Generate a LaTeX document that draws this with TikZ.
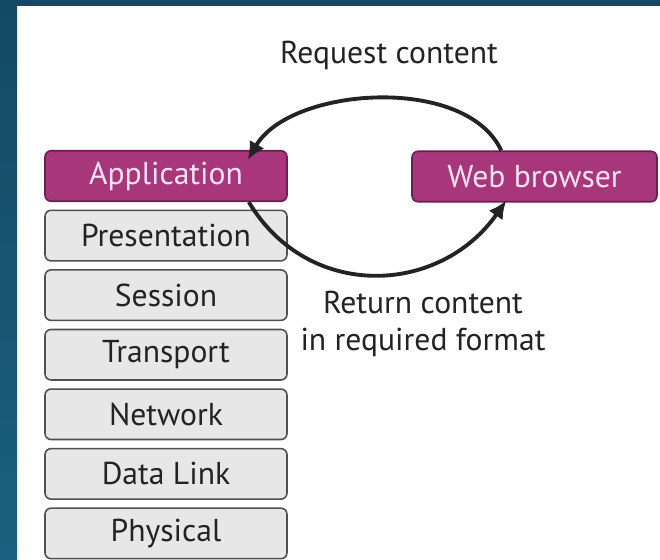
\documentclass[tikz,border=0pt]{standalone}
\usepackage{fontspec}
\setmainfont{PT Sans}
\usetikzlibrary{arrows.meta,positioning}
\definecolor{panelblue}{RGB}{19,74,99}
\definecolor{panelblueb}{RGB}{27,96,128}
\definecolor{layermag}{RGB}{168,54,122}
\definecolor{layermagd}{RGB}{105,32,76}
\definecolor{layergray}{RGB}{231,231,231}
\definecolor{layerline}{RGB}{80,80,80}
\definecolor{inkgray}{RGB}{35,35,35}
\definecolor{pinkwhite}{RGB}{252,226,244}

\begin{document}
\begin{tikzpicture}[
 x=0.02cm, y=-0.02cm, node distance=1.5mm, >={Latex[length=3.6mm,width=3.4mm]},
 font=\fontsize{18}{21.5}\selectfont,
 layer/.style={draw=layerline, line width=0.9pt, rounded corners=1.2mm, fill=layergray, text=inkgray,
   minimum width=4.84cm, minimum height=1.01cm, inner sep=0pt},
 app/.style={layer, draw=layermagd, fill=layermag, text=pinkwhite},
 flow/.style={->, line width=2.2pt, draw=inkgray},
 lbl/.style={text=inkgray, align=center}]
\useasboundingbox (0,0) rectangle (660,559);
\fill[white] (0,0) rectangle (660,559);
\fill[panelblue] (0,0) rectangle (660,6);
\shade[top color=panelblue, bottom color=panelblueb] (0,0) rectangle (17,559);
% OSI stack
\node[app] (appl) at (166,176) {Application};
\node[layer, below=of appl] (pres) {Presentation};
\node[layer, below=of pres] (sess) {Session};
\node[layer, below=of sess] (trans) {Transport};
\node[layer, below=of trans] (netw) {Network};
\node[layer, below=of netw] (link) {Data Link};
\node[layer, below=of link] (phys) {Physical};
% client side
\node[app, minimum width=4.9cm] (web) at (534.5,176.5) {Web browser};
\node[lbl] (req) at (389,55) {Request content};
\node[lbl] (ret) at (423,324) {Return content\\in required format};
\draw[flow] ([xshift=1.8cm]web.north west) to[out=115,in=60,looseness=0.85] ([xshift=-0.8cm,yshift=-0.2cm]appl.north east);
\draw[flow] ([xshift=-0.78cm]appl.south east) to[out=-59,in=-125,looseness=1.15] ([xshift=1.9cm,yshift=0.04cm]web.south west);
\end{tikzpicture}
\end{document}
